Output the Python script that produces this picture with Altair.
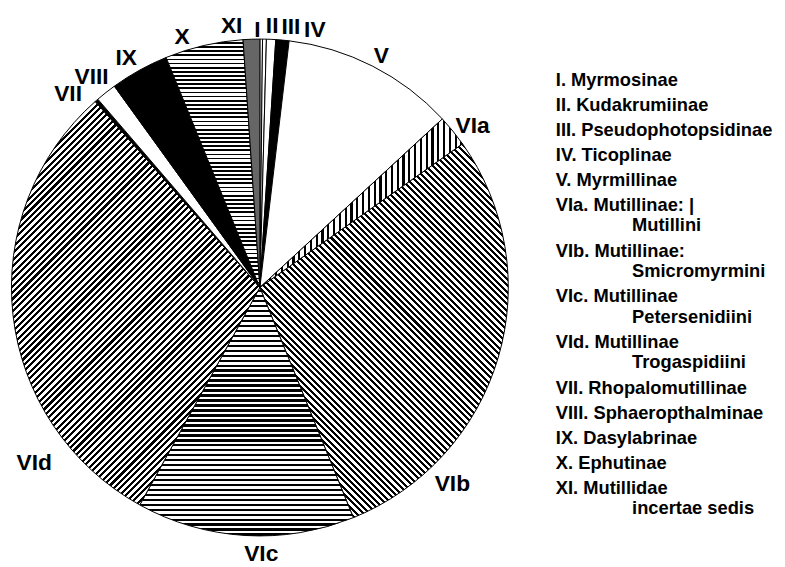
import math
import json
import altair as alt
import pandas as pd

# ---------------- data ----------------
categories = ["I", "II", "III", "IV", "V", "VIa", "VIb", "VIc", "VId",
              "VII", "VIII", "IX", "X", "XI"]
# share of the pie, in percent
shares = [0.17, 0.25, 0.60, 0.86, 11.25, 2.06, 28.67, 14.17, 30.44,
          0.22, 1.35, 3.80, 5.08, 1.08]

legend_first = ["I. Myrmosinae", "II. Kudakrumiinae", "III. Pseudophotopsidinae",
                "IV. Ticoplinae", "V. Myrmillinae", "VIa. Mutillinae: |",
                "VIb. Mutillinae:", "VIc. Mutillinae", "VId. Mutillinae",
                "VII. Rhopalomutillinae", "VIII. Sphaeropthalminae",
                "IX. Dasylabrinae", "X. Ephutinae", "XI. Mutillidae"]
legend_second = ["", "", "", "", "", "Mutillini", "Smicromyrmini",
                 "Petersenidiini", "Trogaspidiini", "", "", "", "",
                 "incertae sedis"]

# ---------------- layout / style (not data) ----------------
label_angle_deg = [359.45, 2.7, 6.8, 12.05, 27.7, 52.75, 135.6, 179.7, 232.1,
                   315.2, 321.3, 329.75, 342.7, 353.85]
label_radius_px = [260.5, 264, 265, 266, 264, 270, 278, 269.5, 289,
                   275, 272, 268, 264.5, 266]

CX, CY, R = 254.5, 279.5, 251
FONT = "Liberation Sans"
INDENT = "\u200b" + "\u00a0" * 15


def sector_bbox(a0, a1, r):
    pts = [(0.0, 0.0)]
    angs = [a0, a1] + [c for c in (0, 90, 180, 270, 360) if a0 < c < a1]
    for a in angs:
        t = math.radians(a)
        pts.append((r * math.sin(t), -r * math.cos(t)))
    xs = [p[0] for p in pts]
    ys = [p[1] for p in pts]
    return max(xs) - min(xs), max(ys) - min(ys)


def stripes(normal_deg, pitch, black_frac, W, H):
    nx = math.cos(math.radians(normal_deg))
    ny = math.sin(math.radians(normal_deg))
    D = abs(nx) * W + abs(ny) * H
    denom = nx * nx * W * W + ny * ny * H * H
    s = D / denom
    gx, gy = s * nx * W, s * ny * H
    n = max(1, int(round(D / pitch)))
    stops = []
    for i in range(n):
        a = i / n
        b = (i + 1 - black_frac) / n
        c = (i + 1) / n
        stops += [alt.GradientStop(offset=round(a, 6), color="white"),
                  alt.GradientStop(offset=round(b, 6), color="white"),
                  alt.GradientStop(offset=round(b, 6), color="black"),
                  alt.GradientStop(offset=round(c, 6), color="black")]
    return alt.LinearGradient(gradient="linear", stops=stops,
                              x1=0.5 - gx / 2, y1=0.5 - gy / 2,
                              x2=0.5 + gx / 2, y2=0.5 + gy / 2)


# slice angle ranges (for sizing stripe patterns only)
cum = 0.0
ranges = {}
for c, v in zip(categories, shares):
    ranges[c] = (cum * 3.6, (cum + v) * 3.6)
    cum += v

stripe_spec = {
    "VIa": (0, 5.8, 0.38),
    "VIb": (-45, 4.6, 0.47),
    "VIc": (90, 5.0, 0.5),
    "VId": (45, 4.6, 0.47),
    "X": (90, 4.2, 0.42),
}
plain = {"I": "white", "II": "white", "III": "white", "IV": "black",
         "V": "white", "VII": "black", "VIII": "white", "IX": "black",
         "XI": "#666666"}

df = pd.DataFrame({"cat": categories, "pct": shares,
                   "order": list(range(len(categories)))})
theta_scale = alt.Scale(domain=[0, 100])

base = alt.Chart(df).transform_window(
    cum="sum(pct)", sort=[alt.SortField("order", order="ascending")]
).transform_calculate(start="datum.cum - datum.pct")

layers = []
for c in categories:
    if c in stripe_spec:
        W, H = sector_bbox(*ranges[c], R)
        nd, p, f = stripe_spec[c]
        fill = stripes(nd, p, f, W, H)
    else:
        fill = plain[c]
    layers.append(
        base.transform_filter(alt.datum.cat == c)
        .mark_arc(fill=fill, stroke="black", strokeWidth=1, outerRadius=R)
        .encode(theta=alt.Theta("start:Q", scale=theta_scale),
                theta2="cum:Q",
                x=alt.value(CX), y=alt.value(CY))
    )

lab_df = pd.DataFrame({
    "cat": categories,
    "lab_t": [a / 3.6 for a in label_angle_deg],
    "lab_r": label_radius_px,
})

label_arrays = []
for a, b in zip(legend_first, legend_second):
    label_arrays.append([a, INDENT + b] if b else [a])
label_expr = "{}[indexof({}, datum.label)]".format(
    json.dumps(label_arrays, ensure_ascii=False), json.dumps(categories))

text_layer = alt.Chart(lab_df).mark_text(
    font=FONT, fontWeight="bold", fontSize=23, align="center", baseline="middle"
).encode(
    theta=alt.Theta("lab_t:Q", scale=theta_scale, stack=False),
    radius=alt.Radius("lab_r:Q", scale=None),
    text="cat:N",
    color=alt.Color("cat:N",
                    scale=alt.Scale(domain=categories, range=["black"] * len(categories)),
                    legend=alt.Legend(orient="none", legendX=535, legendY=61,
                                      title=None, labelFont=FONT,
                                      labelFontWeight="bold", labelFontSize=18.5,
                                      labelColor="black", labelLimit=400,
                                      labelOffset=0, symbolSize=0,
                                      symbolOpacity=0, symbolStrokeWidth=0,
                                      rowPadding=6.2, padding=0,
                                      labelExpr=label_expr)),
    x=alt.value(CX), y=alt.value(CY),
)

chart = alt.layer(*layers, text_layer).properties(
    width=777, height=559, padding=0,
    autosize=alt.AutoSizeParams(type="none"),
).configure(
    view={"strokeWidth": 0},
)

chart.save("out.html", embed_options={"renderer": "svg", "actions": False})
